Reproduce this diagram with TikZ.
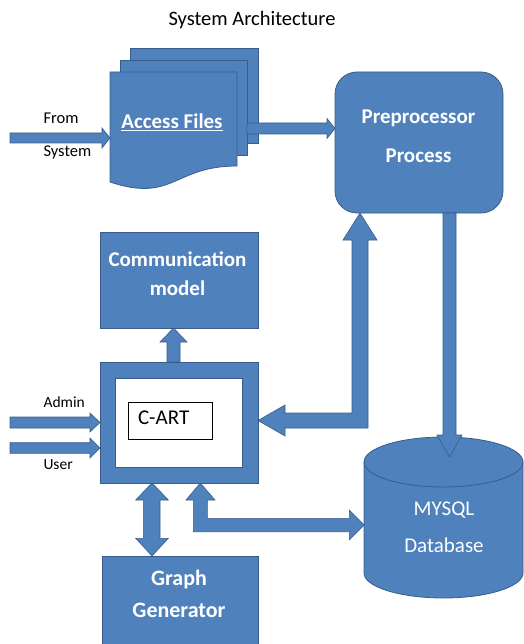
\documentclass[tikz,border=0pt]{standalone}
\usepackage{fontspec}
\setmainfont{Carlito}
\definecolor{blu}{HTML}{4F81BD}
\definecolor{bdr}{HTML}{385D8A}
\begin{document}
\begin{tikzpicture}[x=1pt,y=-1pt,
  box/.style={draw=bdr, fill=blu, line width=0.8pt, inner sep=0pt, outer sep=0pt, anchor=north west},
  blk/.style={draw=bdr, fill=blu, line width=0.6pt, line join=miter},
  wt/.style={text=white, anchor=base, font=\fontsize{21}{25}\selectfont\bfseries},
  wtr/.style={text=white, anchor=base, font=\fontsize{21}{25}\selectfont},
  lbl/.style={text=black, anchor=base west, font=\fontsize{16.5}{20}\selectfont},
  sml/.style={text=black, anchor=base west, font=\fontsize{15.5}{18}\selectfont}]
\useasboundingbox (0,0) rectangle (523,644);

% title
\node[anchor=base, font=\fontsize{20.5}{24}\selectfont] (title) at (252,26) {System Architecture};

% access files (stack of documents)
\node[box, minimum width=128pt, minimum height=95pt] (pg3) at (130,48) {};
\node[box, minimum width=127pt, minimum height=95pt] (pg2) at (120,60) {};
\draw[blk, line width=0.8pt] (110,72) -- (237,72) -- (237,166)
  .. controls (173.5,166) and (173.5,203) .. (110,182) -- cycle;
\node[wt] (acc) at (172,128.5) {\underline{Access Files}};

% from system
\draw[blk] (10,133) -- (102,133) -- (102,128) -- (110,138) -- (102,148) -- (102,143) -- (10,143) -- cycle;
\node[lbl] (from) at (40,124) {From};
\node[lbl] (sys) at (40,157) {System};

% access files -> preprocessor
\draw[blk] (247,123) -- (327,123) -- (327,118.5) -- (335,128.5) -- (327,138.5) -- (327,134) -- (247,134) -- cycle;

% preprocessor
\node[box, rounded corners=22pt, minimum width=168pt, minimum height=141pt] (pre) at (335,72) {};
\node[wt] (pre1) at (418.5,124) {Preprocessor};
\node[wt] (pre2) at (418.5,162.5) {Process};

% communication model
\node[box, minimum width=158pt, minimum height=96pt] (comm) at (100,232) {};
\node[wt] (comm1) at (177.5,266) {Communication};
\node[wt] (comm2) at (177.5,295) {model};

% C-ART -> communication
\draw[blk] (167,362) -- (167,342) -- (160,342) -- (173.5,328) -- (187,342) -- (180,342) -- (180,362) -- cycle;

% C-ART block
\node[box, minimum width=158pt, minimum height=121pt] (cart) at (100,362) {};
\node[draw=bdr, fill=white, line width=0.8pt, anchor=north west, inner sep=0pt,
  minimum width=127pt, minimum height=89pt] (carti) at (115,378) {};
\node[draw=black, fill=white, line width=0.8pt, anchor=north west, inner sep=0pt,
  minimum width=84pt, minimum height=37pt] (cartlbl) at (128,402) {};
\node[anchor=base west, font=\fontsize{21}{25}\selectfont] (carttxt) at (134.5,424.5) {C-ART};

% admin / user
\draw[blk] (10,417) -- (90,417) -- (90,413) -- (100,422.5) -- (90,432) -- (90,428) -- (10,428) -- cycle;
\node[sml] (admin) at (40,407.5) {Admin};
\draw[blk] (10,442.7) -- (90,442.7) -- (90,438) -- (100,448) -- (90,458) -- (90,453.3) -- (10,453.3) -- cycle;
\node[sml] (user) at (40,469) {User};

% preprocessor <-> C-ART elbow
\draw[blk] (360,213) -- (377,240) -- (368,240) -- (368,428) -- (285,428) -- (285,436)
  -- (258,420.5) -- (285,405) -- (285,413) -- (352,413) -- (352,240) -- (343,240) -- cycle;

% MySQL database cylinder
\draw[blk, line width=0.8pt] (364,462) -- (364,573)
  arc[start angle=180, end angle=360, x radius=79.5pt, y radius=25pt]
  -- (523,462) arc[start angle=0, end angle=180, x radius=79.5pt, y radius=25pt] -- cycle;
\draw[bdr, line width=0.8pt] (364,462) arc[start angle=180, end angle=360, x radius=79.5pt, y radius=25pt];
\node[wtr] (db1) at (444,515) {MYSQL};
\node[wtr] (db2) at (444,552.5) {Database};

% preprocessor -> mysql
\draw[blk] (443,213) -- (456,213) -- (456,435) -- (462,435) -- (449.5,457) -- (437,435) -- (443,435) -- cycle;

% C-ART <-> graph generator
\draw[blk] (152,483) -- (168.3,500) -- (160,500) -- (160,538.3) -- (168.3,538.3) -- (152,556)
  -- (135.7,538.3) -- (143.3,538.3) -- (143.3,500) -- (135.7,500) -- cycle;

% C-ART <-> MySQL elbow
\draw[blk] (200.3,483) -- (215,500) -- (207.3,500) -- (207.3,518.3) -- (349.3,518.3) -- (349.3,510)
  -- (364.3,525) -- (349.3,540) -- (349.3,531.7) -- (193.3,531.7) -- (193.3,500) -- (186,500) -- cycle;

% graph generator
\node[box, minimum width=156pt, minimum height=94pt] (graph) at (102,556) {};
\node[wt, font=\fontsize{22}{26}\selectfont\bfseries] (gr1) at (179,585) {Graph};
\node[wt, font=\fontsize{22}{26}\selectfont\bfseries] (gr2) at (179,617) {Generator};
\end{tikzpicture}
\end{document}
